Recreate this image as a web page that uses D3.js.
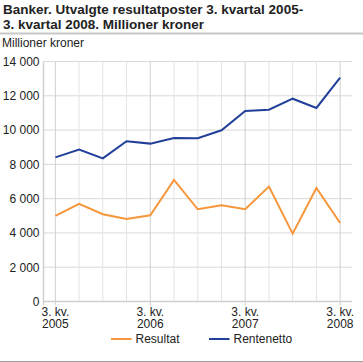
<!DOCTYPE html>
<html>
<head>
<meta charset="utf-8">
<script src="https://cdn.jsdelivr.net/npm/d3@7"></script>
<style>
  body { margin: 0; background: #fff; }
  svg { display: block; font-family: "Liberation Sans", Arial, sans-serif; }
</style>
</head>
<body>
<div id="chart"></div>
<script>
// quarters, 3. kv. 2005 - 3. kv. 2008
const quarters = ["3. kv. 2005", "4. kv. 2005", "1. kv. 2006", "2. kv. 2006", "3. kv. 2006",
    "4. kv. 2006", "1. kv. 2007", "2. kv. 2007", "3. kv. 2007", "4. kv. 2007",
    "1. kv. 2008", "2. kv. 2008", "3. kv. 2008"];
const resultat = [5000, 5700, 5090, 4810, 5030, 7090, 5380, 5610, 5380, 6700, 3960, 6620, 4580];
const rentenetto = [8410, 8860, 8350, 9350, 9210, 9540, 9520, 9990, 11110, 11190, 11830, 11290, 13060];
const yTicks = [0, 2000, 4000, 6000, 8000, 10000, 12000, 14000];
const labelledQuarters = ["3. kv. 2005", "3. kv. 2006", "3. kv. 2007", "3. kv. 2008"];
const seriesNames = ["Resultat", "Rentenetto"];
const seriesColors = ["#f7963b", "#22409a"];

const W = 363, H = 362;
const margin = {top: 61.5, right: 11, bottom: 60.5, left: 43.5};
const width = W - margin.left - margin.right;
const height = H - margin.top - margin.bottom;

const svg = d3.select("#chart").append("svg")
    .attr("width", W)
    .attr("height", H);

// title
svg.append("text")
    .attr("x", 3).attr("y", 14)
    .attr("font-size", 13.5).attr("font-weight", "bold").attr("fill", "#222")
    .text("Banker. Utvalgte resultatposter 3. kvartal 2005-");
svg.append("text")
    .attr("x", 3).attr("y", 29)
    .attr("font-size", 13.5).attr("font-weight", "bold").attr("fill", "#222")
    .text("3. kvartal 2008. Millioner kroner");
svg.append("line")
    .attr("x1", 0).attr("x2", W).attr("y1", 33.5).attr("y2", 33.5)
    .attr("stroke", "#c8c8c8").attr("stroke-width", 2);

svg.append("text")
    .attr("x", 2).attr("y", 47)
    .attr("font-size", 12).attr("fill", "#222")
    .text("Millioner kroner");

const g = svg.append("g")
    .attr("transform", "translate(" + margin.left + "," + margin.top + ")");

const x = d3.scalePoint()
    .domain(quarters)
    .range([0, width])
    .padding(0.5);

const y = d3.scaleLinear()
    .domain([0, 14000])
    .range([height, 0]);

const fmt = d => d3.format(",")(d).replace(/,/g, " ");

// horizontal grid
g.append("g")
    .selectAll("line")
    .data(yTicks.slice(1))
    .enter().append("line")
    .attr("x1", 0).attr("x2", width)
    .attr("y1", d => y(d)).attr("y2", d => y(d))
    .attr("stroke", "#d9d9d9").attr("stroke-width", 1);

// vertical grid
g.append("g")
    .selectAll("line")
    .data(quarters)
    .enter().append("line")
    .attr("x1", d => x(d)).attr("x2", d => x(d))
    .attr("y1", 0)
    .attr("y2", d => labelledQuarters.includes(d) ? height + 4 : height)
    .attr("stroke", d => labelledQuarters.includes(d) ? "#d0d0d0" : "#e4e4e4")
    .attr("stroke-width", 1);

// y axis labels
const yAxis = d3.axisLeft(y)
    .tickValues(yTicks)
    .tickFormat(fmt)
    .tickSize(0)
    .tickPadding(4);
g.append("g")
    .call(yAxis)
    .call(a => a.select(".domain").remove())
    .selectAll("text")
    .attr("font-size", 12)
    .attr("font-family", "Liberation Sans, Arial, sans-serif")
    .attr("fill", "#222");

// axis lines
g.append("line")
    .attr("x1", 0).attr("x2", 0).attr("y1", 0).attr("y2", height + 4)
    .attr("stroke", "#d0d0d0").attr("stroke-width", 1.5);
g.append("line")
    .attr("x1", 0).attr("x2", width).attr("y1", height).attr("y2", height)
    .attr("stroke", "#d0d0d0").attr("stroke-width", 1.5);

// x labels, two lines each
const xl = g.append("g").selectAll("text")
    .data(labelledQuarters)
    .enter().append("text")
    .attr("text-anchor", "middle")
    .attr("font-size", 12)
    .attr("fill", "#222")
    .attr("transform", d => "translate(" + x(d) + "," + (height + 14) + ")");
xl.append("tspan").attr("x", 0).attr("dy", 0).text(d => d.slice(0, 6));
xl.append("tspan").attr("x", 0).attr("dy", 12).text(d => d.slice(7));

// lines
const line = d3.line()
    .x((d, i) => x(quarters[i]))
    .y(d => y(d));

[resultat, rentenetto].forEach(function(s, i) {
    g.append("path")
        .datum(s)
        .attr("fill", "none")
        .attr("stroke", seriesColors[i])
        .attr("stroke-width", 2)
        .attr("stroke-linejoin", "miter")
        .attr("d", line);
});

// legend
const legendX = [111, 209];
seriesNames.forEach(function(name, i) {
    svg.append("line")
        .attr("x1", legendX[i]).attr("x2", legendX[i] + 20.5)
        .attr("y1", 339).attr("y2", 339)
        .attr("stroke", seriesColors[i]).attr("stroke-width", 2);
    svg.append("text")
        .attr("x", legendX[i] + 24.5).attr("y", 343)
        .attr("font-size", 12).attr("fill", "#222")
        .text(name);
});

svg.append("line")
    .attr("x1", 0).attr("x2", W).attr("y1", 361.5).attr("y2", 361.5)
    .attr("stroke", "#a0a0a0").attr("stroke-width", 1);
</script>
</body>
</html>
